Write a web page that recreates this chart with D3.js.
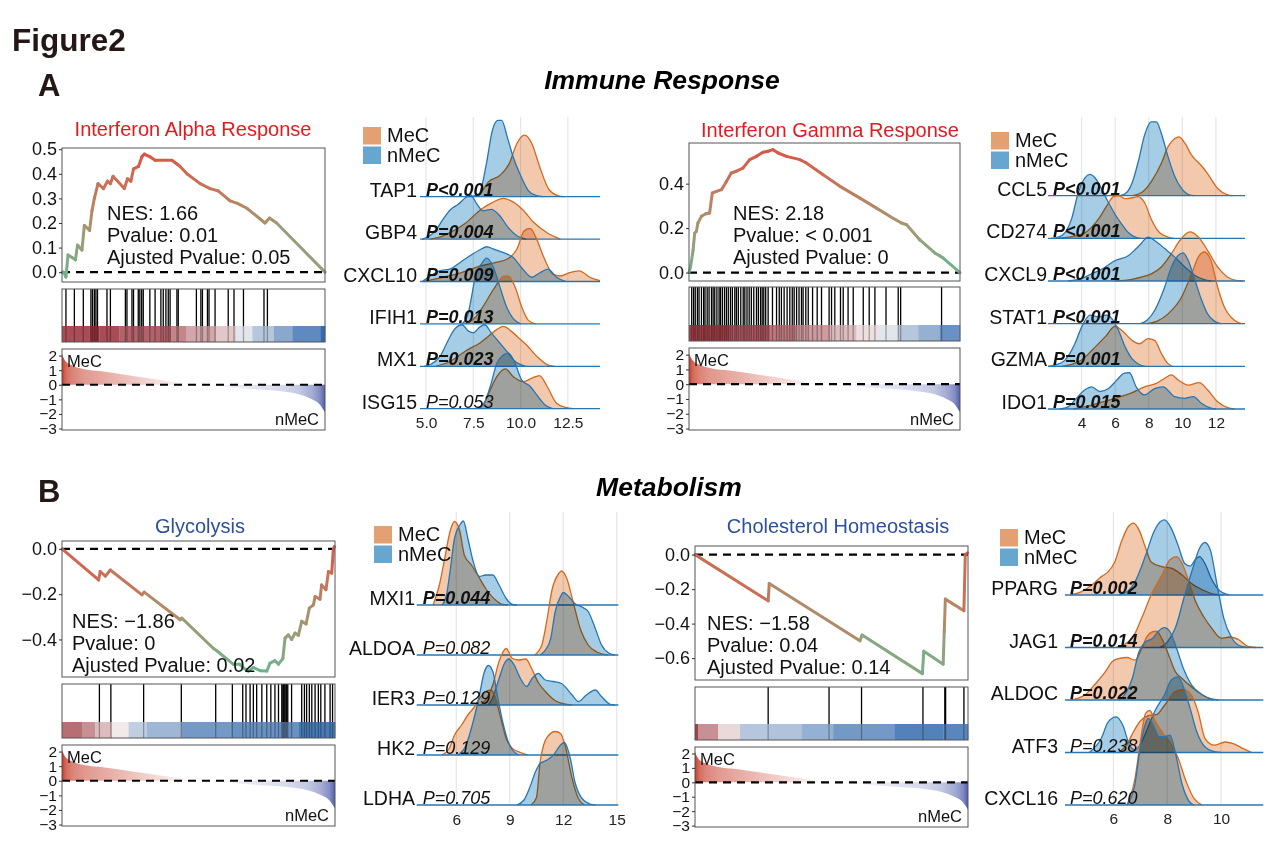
<!DOCTYPE html>
<html>
<head>
<meta charset="utf-8">
<title>Figure2</title>
<script src="https://d3js.org/d3.v7.min.js"></script>
<style>
  body { margin: 0; background: #fff; }
  svg text { font-family: "Liberation Sans", Arial, sans-serif; }
</style>
</head>
<body>
<div id="fig"></div>
<script>
// ---------- GSEA data (rank position in % of ranked list) ----------
const rankPos    = [0, 1, 2, 4, 8, 15, 27, 40, 48, 52, 58, 65, 75, 84, 90, 95, 98, 100];
const rankMetric = [2.1, 1.7, 1.5, 1.3, 1.08, 0.92, 0.6, 0.25, 0.03, 0, -0.08, -0.2, -0.33, -0.47, -0.65, -1.0, -1.35, -1.9];
const rankTicks  = [2, 1, 0, -1, -2, -3];

const gseaTitles = ["Interferon Alpha Response", "Interferon Gamma Response", "Glycolysis", "Cholesterol Homeostasis"];
const gseaNES    = ["1.66", "2.18", "\u22121.86", "\u22121.58"];
const gseaPval   = ["0.01", "< 0.001", "0", "0.04"];
const gseaPadj   = ["0.05", "0", "0.02", "0.14"];

const ifnaES = [[0,0],[0.6,0],[1.5,-0.02],[2.3,0.07],[3.8,0.06],[5.1,0.05],[5.9,0.11],[7.6,0.09],[8.5,0.19],[10.5,0.17],[11.4,0.25],[12.3,0.30],[13.7,0.36],[15.8,0.34],[17.3,0.37],[18.4,0.36],[19.4,0.39],[23.7,0.34],[24.9,0.38],[26.2,0.37],[27.2,0.42],[29.1,0.43],[30.4,0.47],[31.3,0.48],[33.3,0.47],[35.4,0.455],[41.8,0.455],[43.7,0.44],[44.9,0.43],[47.5,0.40],[52.5,0.36],[56.3,0.34],[59.5,0.33],[63.9,0.29],[66.7,0.28],[70.3,0.26],[77.2,0.20],[78.9,0.22],[81.6,0.20],[100,0]];
const ifnaHits = [1.5,4.7,8.1,11.0,11.6,12.3,12.9,13.5,17.1,18.4,24.1,24.7,26.6,27.2,29.0,29.6,30.3,30.9,33.4,35.4,37.6,38.5,39.5,40.4,41.1,43.7,44.2,51.1,52.8,53.4,55.3,55.9,58.2,63.2,65.4,69.0,76.8,78.1];
const ifnaBarBreaks = [0,10.4,14.2,21.8,41.4,47.1,58.5,66.1,72.4,80.6,87.6,98.4,100];
const ifnaBarValues = [0.75,0.85,0.75,0.65,0.5,0.35,0.2,-0.1,-0.3,-0.5,-0.7,-0.9];

const ifngES = [[0,0],[0.6,0.027],[1.5,0.10],[2.1,0.177],[2.7,0.185],[3.3,0.223],[4.6,0.253],[6.2,0.265],[7.6,0.268],[8.6,0.358],[10.1,0.365],[12.0,0.373],[13.8,0.41],[15.6,0.448],[17.5,0.456],[19.9,0.47],[22.4,0.508],[24.9,0.523],[27.3,0.541],[29.2,0.546],[31.0,0.553],[32.9,0.538],[36.0,0.523],[40.9,0.508],[43.3,0.493],[49.5,0.44],[55.7,0.388],[63.1,0.335],[69.2,0.29],[74.1,0.253],[78.4,0.223],[80.3,0.215],[85.2,0.147],[90.8,0.087],[92.6,0.075],[93.8,0.065],[100,0]];
const ifngHits = [1.0,1.7,2.3,3.1,3.7,4.6,5.4,5.9,6.7,7.4,8.3,8.9,9.5,10.3,11.1,11.6,12.3,13.1,13.8,14.5,15.3,16.0,16.9,17.5,18.2,19.1,20.0,20.6,21.4,22.2,23.0,23.9,24.9,25.6,26.4,27.0,27.6,28.3,29.2,30.8,32.3,33.3,34.1,35.1,36.2,37.2,38.1,38.8,39.7,40.6,41.5,42.1,43.1,44.0,45.6,47.3,48.9,51.7,52.6,53.8,55.9,56.9,58.7,60.6,64.3,66.5,68.6,72.7,77.2,78.1,93.2];
const ifngBarBreaks = [0,15.0,29.8,39.7,52.0,61.8,69.8,77.2,84.6,92.6,100];
const ifngBarValues = [0.8,0.7,0.55,0.4,0.25,0.1,-0.1,-0.3,-0.45,-0.65];

const glyES = [[0,0],[13.4,-0.137],[14.0,-0.10],[15.9,-0.12],[17.7,-0.093],[29.3,-0.203],[30.1,-0.191],[43.3,-0.313],[43.9,-0.306],[55.5,-0.44],[56.7,-0.45],[62.8,-0.51],[65.2,-0.51],[66.5,-0.526],[68.3,-0.54],[70.1,-0.524],[72.6,-0.538],[75,-0.54],[76.2,-0.505],[78,-0.494],[79.3,-0.509],[80.9,-0.485],[81.7,-0.394],[82.9,-0.38],[84.1,-0.40],[85.4,-0.372],[86.6,-0.382],[87.8,-0.32],[89.4,-0.332],[90.6,-0.262],[92.1,-0.247],[92.7,-0.21],[94.5,-0.222],[95.1,-0.159],[96.7,-0.18],[97.6,-0.10],[98.8,-0.107],[99.4,0.0],[99.8,0.01]];
const glyHits = [13.7,17.9,29.9,43.7,56.3,62.4,66.2,67.4,68.9,70.1,71.3,73.2,75.0,76.5,78.0,79.3,80.5,80.9,81.2,81.6,82.0,82.3,82.7,84.1,87.8,88.8,89.6,90.6,91.5,92.7,93.9,94.8,96.3,98.2,99.1];
const glyBarBreaks = [0,7.3,12.2,18.3,24.4,31.1,43.9,61.6,86.6,100];
const glyBarValues = [0.6,0.45,0.25,0.05,-0.25,-0.4,-0.6,-0.65,-0.8];

const cholES = [[0,0],[26.8,-0.268],[27.2,-0.167],[60.4,-0.50],[61.2,-0.466],[83.3,-0.69],[83.8,-0.56],[90.9,-0.635],[91.3,-0.447],[91.7,-0.258],[98.5,-0.325],[99.0,0],[99.8,0.01]];
const cholHits = [26.8,49.1,61.0,83.5,91.5,91.8,98.5];
const cholBarBreaks = [0,1.2,8.5,16.5,26.8,39.0,50.6,73.2,90.9,100];
const cholBarValues = [0.8,0.45,0.12,-0.3,-0.32,-0.45,-0.6,-0.75,-0.72];

// ---------- Ridge data: [expression, relative density] ----------
const immuneAGenes = ["TAP1","GBP4","CXCL10","IFIH1","MX1","ISG15"];
const immuneAP = ["P<0.001","P=0.004","P=0.009","P=0.013","P=0.023","P=0.053"];
const immuneAPval = [0.001,0.004,0.009,0.013,0.023,0.053];
const immuneAMeC = [
  [[7.4,0],[7.9,0.1],[8.3,0.35],[8.9,0.5],[9.4,0.78],[9.8,1.25],[10.2,1.45],[10.6,1.25],[11.0,0.72],[11.5,0.17],[12.0,0.02],[12.3,0]],
  [[5.2,0],[5.8,0.06],[6.3,0.16],[7.1,0.38],[7.9,0.7],[8.5,0.86],[9.1,0.96],[9.5,0.9],[10.1,0.7],[10.7,0.39],[11.4,0.15],[12.1,0]],
  [[4.9,0],[5.7,0.08],[6.8,0.2],[7.9,0.37],[8.7,0.45],[9.3,0.53],[9.8,0.76],[10.2,1.2],[10.5,1.25],[10.85,1.0],[11.2,0.6],[11.7,0.18],[12.1,0.13],[12.6,0.21],[13.1,0.25],[13.7,0.09],[14.2,0.02]],
  [[7.1,0],[7.6,0.15],[8.0,0.4],[8.55,0.8],[9.1,1.12],[9.35,1.13],[9.7,0.88],[10.05,0.41],[10.4,0.09],[10.8,0]],
  [[5.5,0],[6.3,0.12],[7.15,0.38],[7.85,0.55],[8.3,0.71],[8.75,0.87],[9.1,0.94],[9.5,0.83],[10.0,0.63],[10.3,0.51],[10.85,0.24],[11.4,0.04],[11.8,0]],
  [[7.7,0],[8.1,0.15],[8.4,0.45],[8.75,0.76],[9.2,0.94],[9.6,0.76],[10.15,0.64],[10.6,0.72],[11.0,0.78],[11.4,0.53],[11.9,0.13],[12.4,0.03],[12.8,0]]
];
const immuneAnMeC = [
  [[7.4,0],[7.8,0.06],[8.2,0.8],[8.5,1.55],[8.8,1.8],[9.0,1.8],[9.3,1.4],[9.6,0.95],[10.0,0.5],[10.4,0.15],[10.8,0.03],[11.2,0]],
  [[4.8,0],[5.2,0.08],[5.5,0.2],[5.9,0.47],[6.3,0.7],[6.7,0.82],[7.1,0.98],[7.35,1.04],[7.7,0.82],[8.0,0.67],[8.45,0.7],[8.9,0.55],[9.35,0.27],[9.8,0.08],[10.3,0]],
  [[4.8,0],[5.2,0.12],[5.7,0.25],[6.3,0.3],[6.8,0.45],[7.3,0.6],[7.9,0.76],[8.2,0.82],[8.6,0.76],[9.1,0.68],[9.6,0.57],[10.1,0.3],[10.6,0.1],[11.0,0.2],[11.45,0.29],[11.9,0.1],[12.4,0]],
  [[6.9,0],[7.2,0.2],[7.35,0.5],[7.6,1.1],[7.95,1.43],[8.2,1.55],[8.55,1.35],[8.9,0.88],[9.25,0.41],[9.6,0.13],[10.0,0]],
  [[4.9,0],[5.3,0.06],[5.75,0.24],[6.1,0.55],[6.5,0.87],[6.9,0.98],[7.25,0.83],[7.5,0.79],[7.85,0.93],[8.1,0.98],[8.45,0.79],[8.9,0.55],[9.35,0.31],[9.7,0.12],[10.3,0]],
  [[7.8,0],[8.1,0.15],[8.4,0.53],[8.75,1.08],[9.1,1.27],[9.35,1.31],[9.7,1.08],[10.05,0.68],[10.5,0.53],[10.85,0.33],[11.3,0.09],[11.7,0]]
];

const immuneBGenes = ["CCL5","CD274","CXCL9","STAT1","GZMA","IDO1"];
const immuneBP = ["P<0.001","P<0.001","P<0.001","P<0.001","P=0.001","P=0.015"];
const immuneBPval = [0.001,0.001,0.001,0.001,0.001,0.015];
const immuneBMeC = [
  [[7.0,0],[7.6,0.08],[8.15,0.33],[8.75,0.76],[9.15,1.15],[9.55,1.34],[9.8,1.38],[10.15,1.23],[10.55,0.95],[11.1,0.72],[11.5,0.52],[12.1,0.17],[12.7,0.02],[13.0,0]],
  [[2.5,0],[3.4,0.04],[4.2,0.13],[5.0,0.45],[5.5,0.76],[5.9,0.98],[6.2,1.0],[6.6,0.93],[7.0,0.95],[7.35,0.98],[7.75,0.84],[8.15,0.45],[8.65,0.13],[9.15,0.03],[9.5,0]],
  [[6.0,0],[7.0,0.04],[7.55,0.09],[8.2,0.18],[8.75,0.33],[9.35,0.64],[9.85,0.95],[10.45,1.15],[10.95,1.03],[11.5,0.72],[12.1,0.33],[12.7,0.09],[13.3,0.01],[13.6,0]],
  [[7.9,0],[8.5,0.06],[9.15,0.23],[9.95,0.62],[10.55,1.17],[10.95,1.56],[11.3,1.68],[11.7,1.48],[12.1,0.86],[12.5,0.39],[13.1,0.08],[13.5,0]],
  [[2.8,0],[3.5,0.06],[4.0,0.15],[4.6,0.37],[5.4,0.69],[6.0,0.94],[6.4,0.84],[7.0,0.61],[7.45,0.53],[7.95,0.65],[8.35,0.61],[8.75,0.3],[9.1,0.08],[9.4,0]],
  [[3.5,0],[4.5,0.08],[5.3,0.17],[6.0,0.25],[6.95,0.37],[7.75,0.52],[8.45,0.6],[8.95,0.72],[9.35,0.8],[9.75,0.68],[10.35,0.56],[11.0,0.62],[11.5,0.45],[12.1,0.17],[12.7,0.03],[13.1,0]]
];
const immuneBnMeC = [
  [[6.3,0],[6.7,0.08],[7.0,0.29],[7.4,0.84],[7.75,1.42],[8.15,1.73],[8.45,1.73],[8.75,1.46],[9.15,0.91],[9.55,0.45],[9.95,0.17],[10.4,0.02],[10.7,0]],
  [[2.2,0],[2.6,0.03],[3.0,0.13],[3.4,0.45],[3.8,1.07],[4.2,1.42],[4.5,1.5],[4.8,1.42],[5.2,1.15],[5.6,0.84],[6.0,0.56],[6.4,0.33],[6.8,0.13],[7.2,0.03],[7.5,0]],
  [[3.2,0],[4.0,0.06],[4.6,0.17],[5.3,0.3],[6.0,0.48],[6.8,0.6],[7.15,0.72],[7.55,0.88],[7.95,1.03],[8.35,0.95],[8.95,0.76],[9.55,0.56],[10.15,0.33],[10.75,0.13],[11.3,0.03],[11.7,0]],
  [[7.5,0],[7.9,0.08],[8.35,0.31],[8.95,0.86],[9.35,1.33],[9.75,1.6],[10.05,1.66],[10.35,1.48],[10.75,1.02],[11.15,0.55],[11.5,0.23],[11.9,0.06],[12.3,0]],
  [[2.0,0],[2.5,0.04],[3.0,0.14],[3.6,0.53],[4.0,0.92],[4.5,1.2],[5.0,1.16],[5.5,1.2],[5.8,1.12],[6.2,0.84],[6.6,0.45],[7.0,0.18],[7.4,0.05],[7.8,0]],
  [[2.7,0],[3.2,0.05],[3.6,0.21],[4.2,0.45],[4.6,0.52],[5.1,0.41],[5.6,0.48],[6.1,0.68],[6.55,0.84],[6.85,0.85],[7.25,0.52],[7.75,0.33],[8.35,0.48],[8.85,0.52],[9.55,0.29],[10.15,0.25],[10.65,0.29],[11.15,0.13],[11.7,0.02],[12.0,0]]
];

const metaAGenes = ["MXI1","ALDOA","IER3","HK2","LDHA"];
const metaAP = ["P=0.044","P=0.082","P=0.129","P=0.129","P=0.705"];
const metaAPval = [0.044,0.082,0.129,0.129,0.705];
const metaAMeC = [
  [[4.7,0],[5.05,0.4],[5.35,0.93],[5.65,1.47],[5.9,1.67],[6.2,1.47],[6.45,1.0],[6.85,0.8],[7.2,0.6],[7.65,0.33],[8.2,0.1],[8.6,0.01],[8.9,0]],
  [[10.4,0],[10.8,0.2],[11.1,0.73],[11.35,1.27],[11.75,1.63],[11.9,1.68],[12.2,1.53],[12.55,1.07],[12.95,0.53],[13.4,0.2],[13.95,0.05],[14.5,0]],
  [[7.4,0],[7.7,0.13],[8.05,0.4],[8.4,0.87],[8.8,1.13],[9.15,0.93],[9.5,0.9],[9.9,0.92],[10.2,0.75],[10.6,0.45],[11.0,0.27],[11.5,0.1],[12.2,0.01],[12.5,0]],
  [[5.2,0],[5.6,0.13],[5.9,0.4],[6.3,0.6],[6.65,0.8],[6.95,0.93],[7.3,1.13],[7.65,1.27],[7.95,1.3],[8.2,1.13],[8.5,0.73],[8.8,0.33],[9.15,0.13],[9.6,0.05],[10.0,0]],
  [[10.2,0],[10.5,0.15],[10.7,0.85],[10.9,1.2],[11.15,1.38],[11.55,1.47],[11.85,1.43],[12.1,1.2],[12.5,0.53],[12.85,0.13],[13.2,0]]
];
const metaAnMeC = [
  [[5.2,0],[5.45,0.2],[5.65,0.67],[5.9,1.33],[6.2,1.6],[6.4,1.68],[6.65,1.33],[6.95,0.87],[7.3,0.57],[7.65,0.6],[8.05,0.6],[8.4,0.4],[8.8,0.13],[9.15,0.01],[9.4,0]],
  [[10.7,0],[11.0,0.1],[11.3,0.33],[11.55,0.87],[11.85,1.17],[12.0,1.25],[12.3,1.17],[12.65,1.03],[13.1,0.95],[13.4,0.87],[13.8,0.53],[14.15,0.2],[14.6,0.03],[14.9,0]],
  [[7.8,0],[8.05,0.15],[8.4,0.53],[8.7,0.83],[8.95,0.92],[9.25,0.8],[9.6,0.53],[9.95,0.37],[10.25,0.53],[10.6,0.63],[11.0,0.5],[11.45,0.47],[11.9,0.43],[12.5,0.2],[12.85,0.07],[13.3,0.2],[13.8,0.3],[14.15,0.17],[14.6,0.02],[14.9,0]],
  [[6.1,0],[6.55,0.2],[6.95,0.67],[7.3,1.2],[7.55,1.63],[7.8,1.79],[8.05,1.67],[8.3,1.2],[8.6,0.67],[8.85,0.33],[9.15,0.1],[9.5,0]],
  [[9.4,0],[9.8,0.1],[10.1,0.33],[10.45,0.67],[10.7,0.83],[11.1,0.9],[11.45,1.0],[11.85,1.2],[12.05,1.25],[12.4,0.93],[12.65,0.47],[13.05,0.13],[13.5,0.02],[13.8,0]]
];

const metaBGenes = ["PPARG","JAG1","ALDOC","ATF3","CXCL16"];
const metaBP = ["P=0.002","P=0.014","P=0.022","P=0.238","P=0.620"];
const metaBPval = [0.002,0.014,0.022,0.238,0.620];
const metaBMeC = [
  [[4.4,0],[4.8,0.06],[5.2,0.19],[5.55,0.35],[5.8,0.44],[6.05,0.63],[6.3,1.02],[6.55,1.3],[6.75,1.37],[6.95,1.24],[7.2,0.89],[7.4,0.63],[7.8,0.54],[8.15,0.51],[8.55,0.38],[8.9,0.22],[9.3,0.1],[9.8,0.01],[10.1,0]],
  [[6.1,0],[6.7,0.18],[7.05,0.56],[7.4,1.0],[7.8,1.38],[8.1,1.67],[8.35,1.73],[8.55,1.6],[8.8,1.26],[9.05,0.88],[9.35,0.59],[9.65,0.37],[10.0,0.18],[10.35,0.2],[10.65,0.15],[11.0,0.02],[11.3,0]],
  [[4.4,0],[4.95,0.1],[5.3,0.29],[5.7,0.54],[5.95,0.73],[6.2,0.79],[6.5,0.81],[6.8,0.76],[7.05,0.98],[7.25,1.21],[7.45,1.3],[7.6,1.31],[7.8,1.17],[8.05,0.86],[8.3,0.54],[8.55,0.41],[8.9,0.25],[9.3,0.1],[9.7,0]],
  [[6.2,0],[6.5,0.15],[6.75,0.4],[7.0,0.6],[7.3,0.7],[7.6,0.72],[7.9,0.9],[8.3,1.16],[8.6,1.2],[8.9,1.09],[9.15,0.77],[9.4,0.27],[9.75,0.14],[10.15,0.2],[10.45,0.17],[10.8,0.08],[11.15,0]],
  [[6.5,0],[6.8,0.5],[7.0,1.2],[7.2,1.75],[7.35,1.8],[7.55,1.6],[7.8,1.4],[8.1,1.2],[8.4,0.9],[8.7,0.45],[9.0,0.12],[9.3,0]]
];
const metaBnMeC = [
  [[6.2,0],[6.55,0.08],[6.8,0.25],[7.2,0.76],[7.5,1.2],[7.75,1.4],[7.9,1.43],[8.15,1.27],[8.4,0.95],[8.65,0.6],[8.85,0.55],[9.05,0.68],[9.2,0.73],[9.4,0.6],[9.65,0.3],[9.95,0.08],[10.3,0]],
  [[7.7,0],[8.0,0.1],[8.3,0.37],[8.65,1.0],[8.95,1.51],[9.2,1.89],[9.4,2.0],[9.6,1.86],[9.85,1.2],[10.1,0.56],[10.4,0.18],[10.75,0.02],[11.0,0]],
  [[6.2,0],[6.45,0.12],[6.7,0.41],[6.95,0.92],[7.2,1.11],[7.45,1.17],[7.65,1.3],[7.9,1.38],[8.1,1.3],[8.35,0.98],[8.6,0.6],[8.9,0.29],[9.3,0.1],[9.65,0.02],[9.9,0]],
  [[5.1,0],[5.55,0.27],[5.8,0.58],[6.1,0.68],[6.35,0.52],[6.6,0.14],[6.8,0.05],[7.05,0.2],[7.3,0.5],[7.55,0.8],[7.9,1.1],[8.15,1.38],[8.4,1.44],[8.6,1.25],[8.85,0.84],[9.1,0.39],[9.4,0.11],[9.8,0.01],[10.0,0]],
  [[6.5,0],[6.8,0.4],[7.0,1.1],[7.3,1.65],[7.5,1.5],[7.7,1.3],[7.9,1.3],[8.1,1.33],[8.3,1.0],[8.55,0.4],[8.8,0.08],[9.0,0]]
];

// ---------- styles ----------
const FONT = '"Liberation Sans", Arial, sans-serif';
const meFill = "#F3C9AE", nmeFill = "#A6CDE6";
const meLine = "#D2691E", nmeLine = "#2776B4";
const meKey = "#E3A073", nmeKey = "#67A6CF";

const W = 1269, H = 861;
const svg = d3.select("#fig").append("svg")
  .attr("width", W).attr("height", H)
  .style("font-family", FONT);

// headers
svg.append("text").attr("x", 12).attr("y", 51).attr("font-size", 31.5).attr("font-weight", "bold").attr("fill", "#231815").text("Figure2");
svg.append("text").attr("x", 38).attr("y", 96).attr("font-size", 31).attr("font-weight", "bold").attr("fill", "#231815").text("A");
svg.append("text").attr("x", 38).attr("y", 502).attr("font-size", 31).attr("font-weight", "bold").attr("fill", "#231815").text("B");
svg.append("text").attr("x", 662).attr("y", 89).attr("text-anchor", "middle").attr("font-size", 26.5)
  .attr("font-weight", "bold").attr("font-style", "italic").text("Immune Response");
svg.append("text").attr("x", 669).attr("y", 496).attr("text-anchor", "middle").attr("font-size", 26.5)
  .attr("font-weight", "bold").attr("font-style", "italic").text("Metabolism");

// ---------- GSEA panel ----------
const barColor = d3.scaleLinear().domain([-1, 0, 1]).range(["#1C5CA8", "#F7F4F4", "#8E1420"]);
const rankColor = d3.scaleLinear().domain([-2, 0, 2]).range(["#4A58A8", "#FFFFFF", "#C8412F"]);
const rankDomain = [-3.1, 2.45];

function drawGsea(p, k) {
  const g = svg.append("g");
  const x = d3.scaleLinear().domain([0, 100]).range([p.x0, p.x1]);
  const yEs = d3.scaleLinear().domain(p.esDomain).range([p.esBot, p.esTop]);
  const yRk = d3.scaleLinear().domain(rankDomain).range([p.rkBot, p.rkTop]);

  g.append("text").attr("x", p.titleX).attr("y", p.titleY).attr("text-anchor", "middle")
    .attr("font-size", 20).attr("fill", p.titleColor).text(gseaTitles[k]);

  // enrichment score
  g.append("line").attr("x1", p.x0).attr("x2", p.x1).attr("y1", yEs(0)).attr("y2", yEs(0))
    .attr("stroke", "#000").attr("stroke-width", 2.2).attr("stroke-dasharray", "8,6");
  const ext = d3.extent(p.es, d => d[1]);
  const esColor = d3.scaleLinear().domain(ext).range(["#69B48D", "#DA5347"]).interpolate(d3.interpolateLab);
  g.selectAll(null).data(d3.pairs(p.es)).join("line")
    .attr("x1", d => x(d[0][0])).attr("y1", d => yEs(d[0][1]))
    .attr("x2", d => x(d[1][0])).attr("y2", d => yEs(d[1][1]))
    .attr("stroke", d => esColor((d[0][1] + d[1][1]) / 2))
    .attr("stroke-width", 3).attr("stroke-linecap", "round");

  const st = g.append("text").attr("font-size", 20).attr("fill", "#111");
  [`NES: ${gseaNES[k]}`, `Pvalue: ${gseaPval[k]}`, `Ajusted Pvalue: ${gseaPadj[k]}`].forEach((t, i) => {
    st.append("tspan").attr("x", p.statX).attr("y", p.statY + i * 22).text(t);
  });

  g.append("rect").attr("x", p.x0).attr("y", p.esTop).attr("width", p.x1 - p.x0).attr("height", p.esBot - p.esTop)
    .attr("fill", "none").attr("stroke", "#555");
  const ax = g.append("g").attr("transform", `translate(${p.x0},0)`)
    .call(d3.axisLeft(yEs).tickValues(p.esTicks).tickFormat(d3.format(".1f")).tickSize(3).tickPadding(2));
  ax.select(".domain").remove();
  ax.selectAll("text").attr("font-size", 18).attr("fill", "#111").style("font-family", FONT);
  ax.selectAll("line").attr("stroke", "#333");

  // hits + ranked color bar
  const barTop = p.hitBot - 16;
  const bins = d3.pairs(p.barBreaks).map((b, i) => ({ a: b[0], b: b[1], v: p.barValues[i] }));
  g.selectAll(null).data(bins).join("rect")
    .attr("x", d => x(d.a)).attr("width", d => x(d.b) - x(d.a) + 0.3)
    .attr("y", barTop).attr("height", p.hitBot - barTop)
    .attr("fill", d => barColor(d.v));
  g.selectAll(null).data(p.hits).join("line")
    .attr("x1", d => x(d)).attr("x2", d => x(d)).attr("y1", p.hitTop).attr("y2", barTop)
    .attr("stroke", "#000").attr("stroke-width", 1.3);
  g.selectAll(null).data(p.hits).join("line")
    .attr("x1", d => x(d)).attr("x2", d => x(d)).attr("y1", barTop).attr("y2", p.hitBot)
    .attr("stroke", "#000").attr("stroke-opacity", 0.3).attr("stroke-width", 1.3);
  g.append("rect").attr("x", p.x0).attr("y", p.hitTop).attr("width", p.x1 - p.x0).attr("height", p.hitBot - p.hitTop)
    .attr("fill", "none").attr("stroke", "#555");

  // ranked list metric
  const gid = "rk" + k;
  const grad = svg.append("defs").append("linearGradient").attr("id", gid)
    .attr("gradientUnits", "userSpaceOnUse").attr("x1", p.x0).attr("x2", p.x1).attr("y1", 0).attr("y2", 0);
  rankPos.forEach((r, i) => {
    grad.append("stop").attr("offset", r / 100).attr("stop-color", rankColor(rankMetric[i]));
  });
  const rk = rankPos.map((r, i) => [r, rankMetric[i]]);
  g.append("path").datum(rk)
    .attr("d", d3.area().x(d => x(d[0])).y0(yRk(0)).y1(d => yRk(d[1])).curve(d3.curveMonotoneX))
    .attr("fill", `url(#${gid})`);
  g.append("line").attr("x1", p.x0).attr("x2", p.x1).attr("y1", yRk(0)).attr("y2", yRk(0))
    .attr("stroke", "#000").attr("stroke-width", 2.2).attr("stroke-dasharray", "8,6");
  g.append("text").attr("x", p.x0 + 5).attr("y", p.rkTop + 18).attr("font-size", 16.5).attr("fill", "#111").text("MeC");
  g.append("text").attr("x", p.x1 - 6).attr("y", p.rkBot - 5).attr("text-anchor", "end").attr("font-size", 16.5).attr("fill", "#111").text("nMeC");
  g.append("rect").attr("x", p.x0).attr("y", p.rkTop).attr("width", p.x1 - p.x0).attr("height", p.rkBot - p.rkTop)
    .attr("fill", "none").attr("stroke", "#555");
  const ar = g.append("g").attr("transform", `translate(${p.x0},0)`)
    .call(d3.axisLeft(yRk).tickValues(rankTicks).tickFormat(d3.format("d")).tickSize(3).tickPadding(2));
  ar.select(".domain").remove();
  ar.selectAll("text").attr("font-size", 15.5).attr("fill", "#111").style("font-family", FONT);
  ar.selectAll("line").attr("stroke", "#333");
}

const gseaPanels = [
  { es: ifnaES, hits: ifnaHits, barBreaks: ifnaBarBreaks, barValues: ifnaBarValues, titleColor: "#E41A1C",
    esDomain: [-0.04, 0.505], esTicks: [0, 0.1, 0.2, 0.3, 0.4, 0.5],
    x0: 62, x1: 325, esTop: 148, esBot: 282, hitTop: 289, hitBot: 342, rkTop: 349, rkBot: 430,
    statX: 107, statY: 220, titleX: 193, titleY: 136 },
  { es: ifngES, hits: ifngHits, barBreaks: ifngBarBreaks, barValues: ifngBarValues, titleColor: "#E41A1C",
    esDomain: [-0.038, 0.583], esTicks: [0, 0.2, 0.4],
    x0: 689, x1: 960, esTop: 143, esBot: 281, hitTop: 287, hitBot: 341, rkTop: 348, rkBot: 430,
    statX: 733, statY: 220, titleX: 830, titleY: 137 },
  { es: glyES, hits: glyHits, barBreaks: glyBarBreaks, barValues: glyBarValues, titleColor: "#2D4FA0",
    esDomain: [-0.566, 0.035], esTicks: [-0.4, -0.2, 0],
    x0: 62, x1: 335, esTop: 541, esBot: 677, hitTop: 684, hitBot: 738, rkTop: 745, rkBot: 826,
    statX: 72, statY: 628, titleX: 200, titleY: 533 },
  { es: cholES, hits: cholHits, barBreaks: cholBarBreaks, barValues: cholBarValues, titleColor: "#2D4FA0",
    esDomain: [-0.727, 0.05], esTicks: [-0.6, -0.4, -0.2, 0],
    x0: 695, x1: 968, esTop: 546, esBot: 680, hitTop: 687, hitBot: 740, rkTop: 747, rkBot: 827,
    statX: 707, statY: 630, titleX: 838, titleY: 533 }
];
gseaPanels.forEach(drawGsea);

// ---------- ridgeline panel ----------
function drawRidge(p) {
  const g = svg.append("g");
  const x = d3.scaleLinear().domain(p.domain).range([p.lx0, p.lx1]);
  const n = p.genes.length;
  const lastBase = p.base0 + (n - 1) * p.step;

  g.selectAll(null).data(p.ticks).join("line")
    .attr("x1", d => x(d)).attr("x2", d => x(d)).attr("y1", p.gridTop).attr("y2", lastBase)
    .attr("stroke", "#E6E6E6").attr("stroke-width", 1.2);

  p.genes.forEach((gene, i) => {
    const b = p.base0 + i * p.step;
    const y = d3.scaleLinear().domain([0, 1]).range([b, b - p.step]);
    const area = d3.area().x(d => x(d[0])).y0(b).y1(d => y(d[1])).curve(d3.curveMonotoneX);
    const line = d3.line().x(d => x(d[0])).y(d => y(d[1])).curve(d3.curveMonotoneX);
    [[p.mec[i], meFill, meLine], [p.nmec[i], nmeFill, nmeLine]].forEach(([d, f, l]) => {
      g.append("path").datum(d).attr("d", area).attr("fill", f).style("mix-blend-mode", "multiply");
      g.append("path").datum(d).attr("d", line).attr("fill", "none").attr("stroke", l).attr("stroke-width", 1.3);
    });
    g.append("line").attr("x1", p.lx0).attr("x2", p.lx1).attr("y1", b).attr("y2", b)
      .attr("stroke", nmeLine).attr("stroke-width", 1.3);
  });

  p.genes.forEach((gene, i) => {
    const b = p.base0 + i * p.step;
    g.append("text").attr("x", p.labelX).attr("y", b).attr("text-anchor", "end")
      .attr("font-size", 19.5).attr("fill", "#111").text(gene);
    g.append("text").attr("x", p.pX).attr("y", b - 1).attr("font-size", 18)
      .attr("font-style", "italic").attr("fill", "#111")
      .attr("font-weight", p.pval[i] < 0.05 ? "bold" : "normal")
      .text(p.pLabels[i]);
  });

  const ax = g.append("g").attr("transform", `translate(0,${p.tickY - 0.71 * 15.5})`)
    .call(d3.axisBottom(x).tickValues(p.ticks).tickFormat(d3.format(p.fmt)).tickSize(0).tickPadding(0));
  ax.select(".domain").remove();
  ax.selectAll("text").attr("font-size", 15.5).attr("fill", "#222").style("font-family", FONT);

  const keys = [["MeC", meKey], ["nMeC", nmeKey]];
  keys.forEach(([t, c], i) => {
    g.append("rect").attr("x", p.legX).attr("y", p.legY + i * 19.5).attr("width", 18).attr("height", 17.5).attr("fill", c);
    g.append("text").attr("x", p.legX + 24).attr("y", p.legY + i * 19.5 + 15).attr("font-size", 20).attr("fill", "#111").text(t);
  });
}

const ridgePanels = [
  { genes: immuneAGenes, pLabels: immuneAP, pval: immuneAPval, mec: immuneAMeC, nmec: immuneAnMeC,
    domain: [4.68, 14.2], ticks: [5, 7.5, 10, 12.5], fmt: ".1f",
    lx0: 420, lx1: 600, labelX: 417, pX: 426, base0: 196.7, step: 42.4, gridTop: 117, tickY: 428, legX: 363, legY: 127 },
  { genes: immuneBGenes, pLabels: immuneBP, pval: immuneBPval, mec: immuneBMeC, nmec: immuneBnMeC,
    domain: [2.0, 13.73], ticks: [4, 6, 8, 10, 12], fmt: "d",
    lx0: 1048, lx1: 1245, labelX: 1047, pX: 1053, base0: 195.7, step: 42.66, gridTop: 117, tickY: 428, legX: 991, legY: 132 },
  { genes: metaAGenes, pLabels: metaAP, pval: metaAPval, mec: metaAMeC, nmec: metaAnMeC,
    domain: [3.78, 15.09], ticks: [6, 9, 12, 15], fmt: "d",
    lx0: 416.7, lx1: 618.3, labelX: 415, pX: 422.7, base0: 605, step: 50, gridTop: 512, tickY: 825, legX: 374, legY: 526 },
  { genes: metaBGenes, pLabels: metaBP, pval: metaBPval, mec: metaBMeC, nmec: metaBnMeC,
    domain: [4.2, 11.57], ticks: [6, 8, 10], fmt: "d",
    lx0: 1065, lx1: 1263.3, labelX: 1058, pX: 1070, base0: 595, step: 52.5, gridTop: 512, tickY: 824, legX: 1000, legY: 529 }
];
ridgePanels.forEach(drawRidge);
</script>
</body>
</html>
